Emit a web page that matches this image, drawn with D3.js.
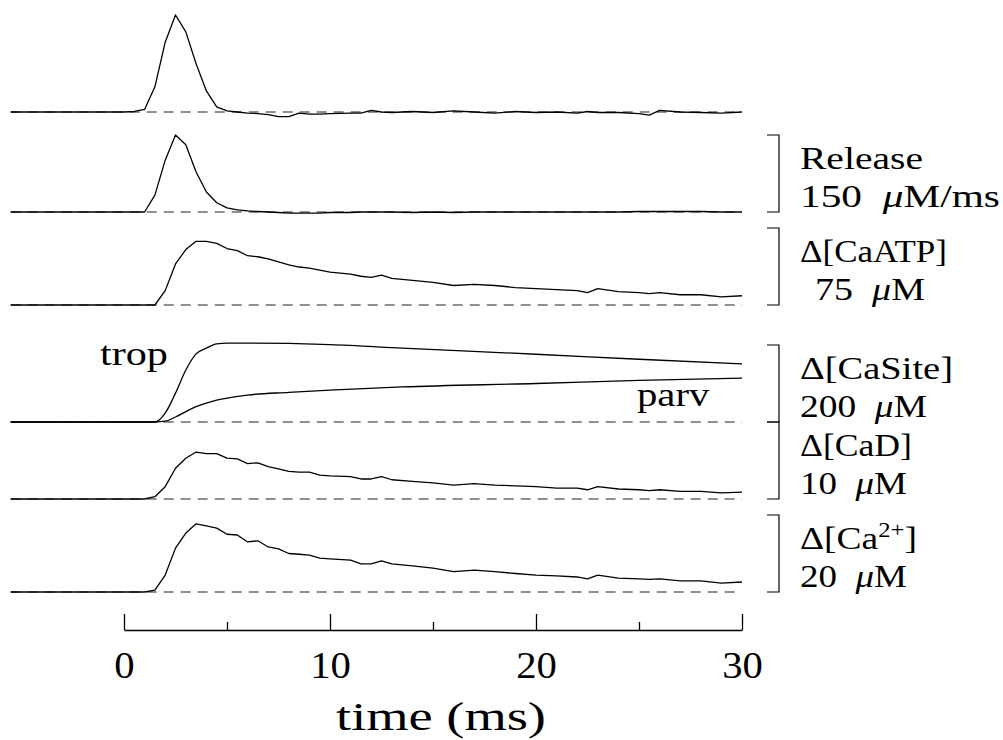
<!doctype html>
<html lang="en">
  <head>
    <meta charset="UTF-8" />
    <title>Ca transients</title>
    <script src="https://d3js.org/d3.v7.min.js"></script>
    <style>
      body { margin: 0; background: #fff; }
      svg text {
        font-family: 'Liberation Serif', 'Times New Roman', serif;
        fill: #000;
        white-space: pre;
      }
      .trace { fill: none; stroke: #000; stroke-width: 1.3; stroke-linejoin: round; }
      .zero { fill: none; stroke: #222; stroke-width: 1.2; stroke-dasharray: 10, 7; }
      .bracket { fill: none; stroke: #000; stroke-width: 1.2; }
      .axis path, .axis line { stroke: #000; stroke-width: 1.3; }
      .axis text { font-size: 37px; }
    </style>
  </head>
  <body>
    <svg id="chart" width="1003" height="740"></svg>
    <script>
      // time grid (ms) shared by the jagged traces
      const timeMs = [-5.5, 0, 0.5, 1, 1.5, 2, 2.5, 3, 3.5, 4, 4.5, 5, 5.5, 6, 6.5, 7, 7.5, 8, 8.5, 9, 9.5, 10,
        11, 11.5, 12, 12.5, 13, 14, 15, 16, 17, 18, 19, 20, 21, 22, 22.5, 23, 24, 25, 25.5, 26, 27, 28, 29, 30];
      // top, unlabelled trace (same scale as release, uM/ms)
      const releaseTop = [0, 0, 1, 5, 49, 136, 189, 156, 94, 41, 10, 2, 0, -2, -3, -5, -9, -9, -2, -4, -4, -3,
        -2, -2, 3, 0, -1, 1, -1, 2, 0, -2, 1, -1, 0, -2, 1, -1, -1, -3, -6, 3, 0, -1, -2, 0];
      // release (uM/ms)
      const release = [0, 0, 0, 0, 33, 101, 150, 131, 78, 39, 18, 8, 4, 2, 1, 0, -1, -2, -2, -2, -2, -1,
        -1, 0, 0, 0, 0, -1, 0, -1, 0, 0, 0, 0, 0, 0, 0, 0, 0, 1, 1, 1, 1, 1, 0, 0];
      // d[CaATP] (uM)
      const caATP = [0, 0, 0, 0, 0, 14, 40, 54, 62, 62, 60, 55, 53, 48, 47, 45, 42, 39, 37, 36, 34, 32,
        30, 28, 27, 29, 26, 24, 22, 19, 20, 19, 17, 16, 15, 14, 12, 16, 13, 12, 11, 12, 10, 10, 8, 9];
      // d[CaD] (uM)
      const caD = [0, 0, 0, 0, 0.3, 1.6, 4.0, 5.3, 6.1, 5.9, 5.9, 5.3, 5.2, 4.6, 4.7, 4.2, 3.9, 3.6, 3.5, 3.5, 3.1, 3.0,
        2.9, 2.6, 2.6, 2.9, 2.5, 2.3, 2.1, 1.8, 2.0, 1.8, 1.7, 1.6, 1.4, 1.4, 1.2, 1.6, 1.3, 1.2, 1.1, 1.2, 1.0, 1.0, 0.8, 0.9];
      // d[Ca2+] (uM)
      const caFree = [0, 0, 0, 0, 0.5, 4.4, 11.4, 15.3, 17.7, 17.2, 16.6, 15.0, 14.8, 13.0, 13.3, 11.7, 11.2, 10.0, 9.8, 9.6, 8.8, 8.6,
        8.3, 7.3, 7.3, 8.1, 7.3, 6.8, 6.2, 5.3, 5.7, 5.3, 4.8, 4.4, 4.2, 3.9, 3.4, 4.4, 3.6, 3.4, 3.3, 3.4, 2.9, 2.9, 2.3, 2.6];

      // binding sites: smooth traces, coarser grid
      const siteTime = [-5.5, 0, 1, 1.5, 2, 2.5, 3, 3.5, 4, 4.5, 5, 6, 8, 10, 13.5, 20, 25, 30];
      const trop = [0, 0, 0, 0, 23, 75, 135, 177, 192, 203, 205, 205, 204, 201, 192, 176, 163, 151];
      const parv = [0, 0, 0, 0, 2, 13, 27, 40, 49, 57, 62, 70, 77, 83, 91, 100, 108, 114];

      const xTicks = [0, 10, 20, 30];
      const xMinorTicks = [5, 15, 25];

      // scale bar sizes and their labels
      const barValues = [150, 150, 75, 200, 10, 20];
      const labelLines = [
        null,
        [['Release'], ['150  ', { i: 'μ' }, 'M/ms']],
        [['Δ[CaATP]'], ['75  ', { i: 'μ' }, 'M']],
        [['Δ[CaSite]'], ['200  ', { i: 'μ' }, 'M']],
        [['Δ[CaD]'], ['10  ', { i: 'μ' }, 'M']],
        [['Δ[Ca', { sup: '2+' }, ']'], ['20  ', { i: 'μ' }, 'M']],
      ];

      const svg = d3.select('#chart');

      const x = d3.scaleLinear().domain([0, 30]).range([124, 742]);
      const barPx = 77;
      const baselines = [112, 212, 305, 422, 499, 592];

      const panels = [
        { series: [[timeMs, releaseTop]] },
        { series: [[timeMs, release]] },
        { series: [[timeMs, caATP]] },
        { series: [[siteTime, trop], [siteTime, parv]], smooth: true },
        { series: [[timeMs, caD]] },
        { series: [[timeMs, caFree]] },
      ];

      // fit a text element to a measured width (the figure is set wide)
      function place(t, px, py, width, anchor) {
        t.attr('text-anchor', anchor || 'start');
        const w = t.node().getBBox().width;
        t.attr('transform', `translate(${px},${py}) scale(${width / w},1)`);
      }

      function richText(g, parts, size) {
        const t = g.append('text').attr('font-size', size);
        let back = 0;
        parts.forEach((p) => {
          if (typeof p === 'string') {
            const s = t.append('tspan').text(p);
            if (back) { s.attr('dy', back); back = 0; }
          } else if (p.i) {
            t.append('tspan').attr('font-style', 'italic').text(p.i);
          } else if (p.sup) {
            t.append('tspan')
              .attr('font-size', size * 0.66)
              .attr('dy', -size * 0.38)
              .text(p.sup);
            back = size * 0.38;
          }
        });
        return t;
      }

      // widths of the label lines as measured on the figure
      const labelWidths = [null, [123, 200], [147, 110], [153, 127], [112, 107], [117, 107]];
      const labelX = [null, [800, 800], [800, 815], [800, 800], [800, 800], [800, 800]];

      panels.forEach((panel, i) => {
        const y = d3.scaleLinear()
          .domain([0, barValues[i]])
          .range([baselines[i], baselines[i] - barPx]);
        const g = svg.append('g');

        // dashed zero line
        g.append('line')
          .attr('class', 'zero')
          .attr('x1', x(timeMs[0]))
          .attr('x2', x(30))
          .attr('y1', y(0))
          .attr('y2', y(0));

        const line = d3.line()
          .x((d) => x(d[0]))
          .y((d) => y(d[1]))
          .curve(panel.smooth ? d3.curveMonotoneX : d3.curveLinear);

        panel.series.forEach(([ts, vs]) => {
          g.append('path')
            .attr('class', 'trace')
            .attr('d', line(ts.map((t, k) => [t, vs[k]])));
        });

        if (!labelLines[i]) return;

        // scale bar bracket
        const bx = 779;
        g.append('path')
          .attr('class', 'bracket')
          .attr('d', `M${bx - 12},${y(barValues[i])}H${bx}V${y(0)}H${bx - 12}`);

        const [l1, l2] = labelLines[i];
        place(richText(g, l1, 31), labelX[i][0], y(0) - 43, labelWidths[i][0]);
        place(richText(g, l2, 31), labelX[i][1], y(0) - 5, labelWidths[i][1]);

        if (panel.smooth) {
          place(g.append('text').attr('font-size', 33).text('trop'), 100, 365, 68);
          place(g.append('text').attr('font-size', 33).text('parv'), 637, 406, 73);
        }
      });

      // time axis: ticks pointing up, labels below
      const axisY = 630;
      svg.append('g')
        .attr('class', 'axis')
        .attr('transform', `translate(0,${axisY})`)
        .call(d3.axisBottom(x)
          .tickValues(xTicks)
          .tickSize(-16)
          .tickSizeOuter(0)
          .tickPadding(22)
          .tickFormat(d3.format('d')))
        .call((a) => a.selectAll('text').attr('transform', 'scale(1.1,1)'));

      svg.append('g')
        .attr('class', 'axis')
        .attr('transform', `translate(0,${axisY})`)
        .call(d3.axisBottom(x)
          .tickValues(xMinorTicks)
          .tickSize(-8)
          .tickSizeOuter(0)
          .tickFormat(''))
        .call((a) => a.select('.domain').remove());

      place(svg.append('text').attr('font-size', 40).text('time (ms)'), 441, 730, 210, 'middle');
    </script>
  </body>
</html>
